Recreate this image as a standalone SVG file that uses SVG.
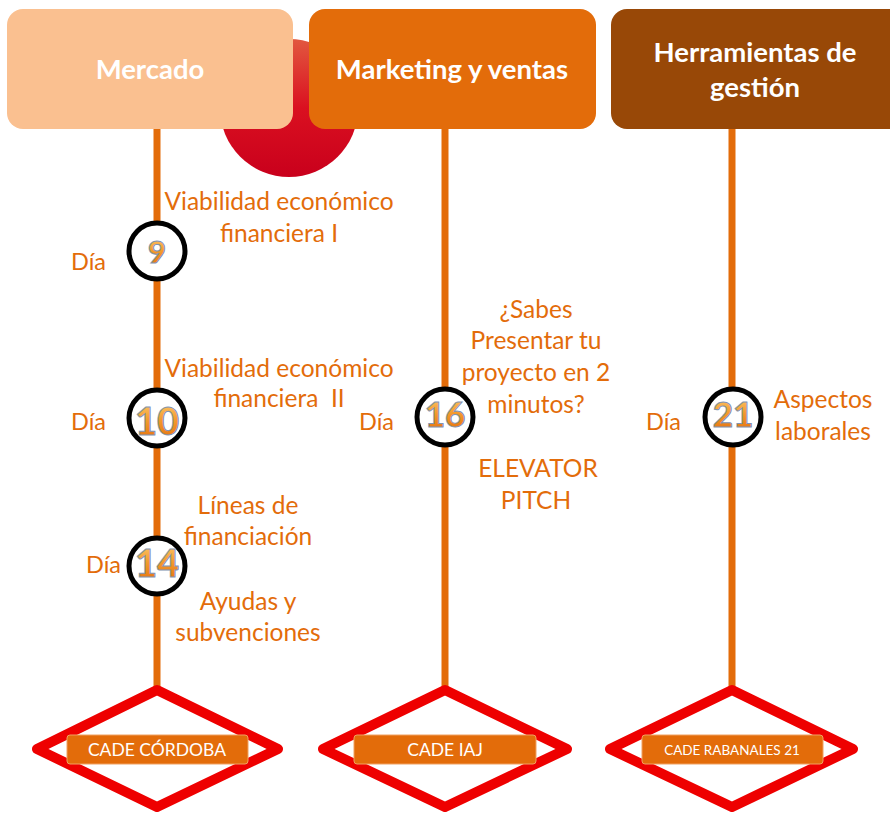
<svg xmlns="http://www.w3.org/2000/svg" width="890" height="813" viewBox="0 0 890 813">
<defs>
<linearGradient id="ball" x1="0" y1="0" x2="0" y2="1">
<stop offset="0" stop-color="#E2583F"/>
<stop offset="0.5" stop-color="#DA1020"/>
<stop offset="1" stop-color="#C9001C"/>
</linearGradient>
<linearGradient id="num" x1="0" y1="0" x2="0" y2="1">
<stop offset="0" stop-color="#FFD27A"/>
<stop offset="0.5" stop-color="#F39A2E"/>
<stop offset="1" stop-color="#E36C0A"/>
</linearGradient>
<style>
.hdr{font-family:Lato,"Open Sans","Liberation Sans",sans-serif;font-weight:bold;fill:#fff;font-size:27.5px;text-anchor:middle}
.lbl{font-family:Lato,"Open Sans","Liberation Sans",sans-serif;fill:#E36C0A;font-size:24.5px;text-anchor:middle}
.dia{font-family:Lato,"Open Sans","Liberation Sans",sans-serif;fill:#E36C0A;font-size:23.5px}
.num{font-family:Lato,"Liberation Sans",sans-serif;font-weight:900;fill:url(#num);stroke:#7F93B3;stroke-width:1;text-anchor:middle}
.ring{fill:#fff;stroke:#000;stroke-width:5}
.line{stroke:#E36C0A;stroke-width:7}
.diamond{fill:#fff;stroke:#EE0000;stroke-width:10;stroke-linejoin:round}
.tag{fill:#E36C0A;stroke:#F0A060;stroke-width:1}
.tagt{font-family:Lato,"Open Sans","Liberation Sans",sans-serif;fill:#fff;font-size:17.5px;text-anchor:middle}
</style>
</defs>
<rect width="890" height="813" fill="#fff"/>
<circle cx="289" cy="108" r="69" fill="url(#ball)"/>
<g id="connectors">
<line class="line" x1="157" y1="125" x2="157" y2="692"/>
<line class="line" x1="445" y1="125" x2="445" y2="692"/>
<line class="line" x1="732" y1="125" x2="732" y2="692"/>
</g>
<g id="hdr-mercado">
<rect x="7" y="9" width="286" height="120" rx="16" fill="#FAC090"/>
<text class="hdr" x="150" y="79">Mercado</text>
</g>
<g id="hdr-marketing">
<rect x="309" y="9" width="287" height="120" rx="16" fill="#E36C0A"/>
<text class="hdr" x="452" y="79">Marketing y ventas</text>
</g>
<g id="hdr-herramientas">
<rect x="611" y="9" width="300" height="120" rx="16" fill="#984807"/>
<text class="hdr" x="755" y="62">Herramientas de</text>
<text class="hdr" x="755" y="97">gestión</text>
</g>
<g id="dia9">
<text class="lbl" x="279" y="210">Viabilidad económico</text>
<text class="lbl" x="279" y="242">financiera I</text>
<text class="dia" x="71" y="270">Día</text>
<circle class="ring" cx="157" cy="251" r="28"/>
<text class="num" x="157" y="263" font-size="31">9</text>
</g>
<g id="dia10">
<text class="lbl" x="279" y="377">Viabilidad económico</text>
<text class="lbl" x="279" y="407" xml:space="preserve">financiera  II</text>
<text class="dia" x="71" y="430">Día</text>
<circle class="ring" cx="157" cy="418" r="28"/>
<text class="num" x="157" y="435" font-size="38">10</text>
</g>
<g id="dia14">
<text class="lbl" x="248" y="514">Líneas de</text>
<text class="lbl" x="248" y="545">financiación</text>
<text class="dia" x="86" y="573">Día</text>
<circle class="ring" cx="157" cy="566" r="28"/>
<text class="num" x="157" y="577" font-size="38">14</text>
<text class="lbl" x="248" y="610">Ayudas y</text>
<text class="lbl" x="248" y="641">subvenciones</text>
</g>
<g id="dia16">
<text class="lbl" x="536" y="318">¿Sabes</text>
<text class="lbl" x="536" y="349">Presentar tu</text>
<text class="lbl" x="536" y="381">proyecto en 2</text>
<text class="lbl" x="536" y="413">minutos?</text>
<text class="dia" x="359" y="430">Día</text>
<circle class="ring" cx="445" cy="417" r="28"/>
<text class="num" x="445" y="427" font-size="35">16</text>
<text class="lbl" x="538" y="477">ELEVATOR</text>
<text class="lbl" x="536" y="509">PITCH</text>
</g>
<g id="dia21">
<text class="dia" x="646" y="430">Día</text>
<circle class="ring" cx="733" cy="417" r="28"/>
<text class="num" x="733" y="427" font-size="35">21</text>
<text class="lbl" x="823" y="408">Aspectos</text>
<text class="lbl" x="823" y="440">laborales</text>
</g>
<g id="cade-cordoba">
<path class="diamond" d="M157 690 L278 749 L157 807 L37 749 Z"/>
<rect class="tag" x="67" y="735" width="181" height="29" rx="3"/>
<text class="tagt" x="157" y="756">CADE CÓRDOBA</text>
</g>
<g id="cade-iaj">
<path class="diamond" d="M445 690 L567 749 L445 807 L323 749 Z"/>
<rect class="tag" x="354" y="735" width="182" height="29" rx="3"/>
<text class="tagt" x="445" y="756">CADE IAJ</text>
</g>
<g id="cade-rabanales">
<path class="diamond" d="M732 690 L853 749 L732 807 L610 749 Z"/>
<rect class="tag" x="642" y="735" width="181" height="29" rx="3"/>
<text class="tagt" x="732" y="755" style="font-size:13.5px">CADE RABANALES 21</text>
</g>
</svg>
